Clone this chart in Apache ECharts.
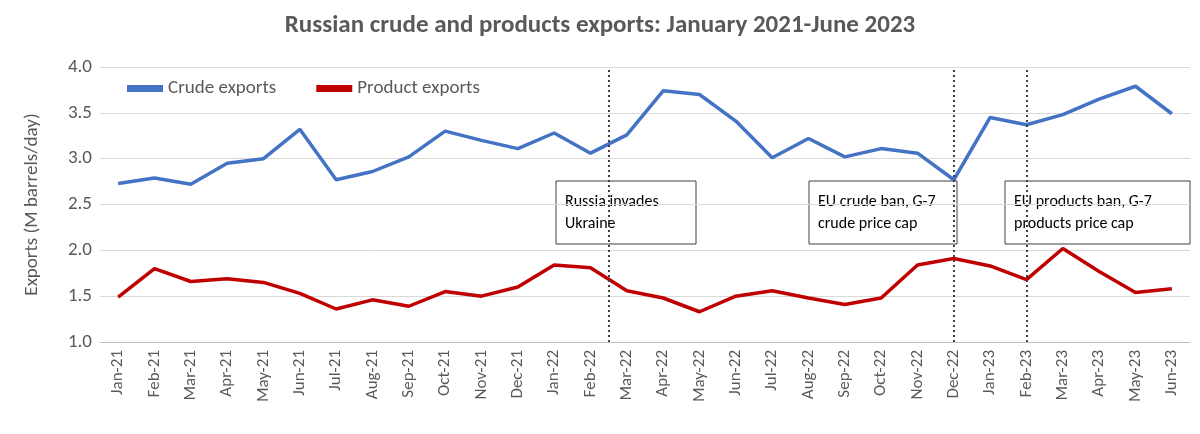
<!DOCTYPE html>
<html>
<head>
<meta charset="utf-8">
<script src="https://cdn.jsdelivr.net/npm/echarts@6/dist/echarts.min.js"></script>
</head>
<body style="margin:0">
<div id="chart" style="width:1200px;height:434px;"></div>
<script>
var months = ['Jan-21','Feb-21','Mar-21','Apr-21','May-21','Jun-21','Jul-21','Aug-21','Sep-21','Oct-21','Nov-21','Dec-21',
  'Jan-22','Feb-22','Mar-22','Apr-22','May-22','Jun-22','Jul-22','Aug-22','Sep-22','Oct-22','Nov-22','Dec-22',
  'Jan-23','Feb-23','Mar-23','Apr-23','May-23','Jun-23'];
var crude = [2.73,2.79,2.72,2.95,3.00,3.32,2.77,2.86,3.02,3.30,3.20,3.11,
  3.28,3.06,3.26,3.74,3.70,3.41,3.01,3.22,3.02,3.11,3.06,2.77,
  3.45,3.37,3.48,3.65,3.79,3.49];
var products = [1.49,1.80,1.66,1.69,1.65,1.53,1.36,1.46,1.39,1.55,1.50,1.60,
  1.84,1.81,1.56,1.48,1.33,1.50,1.56,1.48,1.41,1.48,1.84,1.91,
  1.83,1.68,2.02,1.77,1.54,1.58];
// event positions in category index units
var events = [13.5, 23, 25];

var font = 'Calibri, Carlito, "Liberation Sans", sans-serif';
var chart = echarts.init(document.getElementById('chart'));

function box(x, y, w, h, txt) {
  return {
    type: 'group', x: x, y: y, zlevel: 1,
    children: [
      { type: 'rect', shape: { x: 0, y: 0, width: w, height: h },
        style: { fill: '#fff', stroke: '#404040', lineWidth: 1 } },
      { type: 'text', x: 9, y: 10,
        style: { text: txt, fill: '#000', font: '16px ' + font, lineHeight: 22,
          verticalAlign: 'top', align: 'left' } }
    ]
  };
}

chart.setOption({
  animation: false,
  title: {
    text: 'Russian crude and products exports: January 2021-June 2023',
    left: 'center', top: 8,
    textStyle: { fontFamily: font, fontSize: 25, fontWeight: 'bold', color: '#595959' }
  },
  legend: {
    left: 122, top: 74, itemWidth: 36, itemGap: 40, icon: 'path://M0,0H10V2H0Z',
    textStyle: { fontFamily: font, fontSize: 19, color: '#595959' },
    data: ['Crude exports', 'Product exports']
  },
  grid: { left: 100, right: 10, top: 67, bottom: 92 },
  xAxis: [{
    type: 'category', data: months, boundaryGap: true,
    axisLine: { lineStyle: { color: '#bfbfbf' } },
    axisTick: { show: false },
    axisLabel: { rotate: 90, fontFamily: font, fontSize: 17, color: '#595959', interval: 0 }
  }, {
    type: 'value', min: -0.5, max: 29.5, show: false
  }],
  yAxis: {
    type: 'value', min: 1, max: 4, interval: 0.5,
    name: 'Exports (M barrels/day)', nameLocation: 'middle', nameGap: 58,
    nameTextStyle: { fontFamily: font, fontSize: 19, color: '#595959' },
    axisLine: { show: false }, axisTick: { show: false },
    axisLabel: { fontFamily: font, fontSize: 19, color: '#595959',
      formatter: function (v) { return v.toFixed(1); } },
    splitLine: { lineStyle: { color: '#d9d9d9' } }
  },
  series: [{
    name: 'Crude exports', type: 'line', data: crude, symbol: 'none',
    lineStyle: { color: '#4472c4', width: 3.5 }, itemStyle: { color: '#4472c4' }
  }, {
    name: 'Product exports', type: 'line', data: products, symbol: 'none',
    lineStyle: { color: '#c00000', width: 3.5 }, itemStyle: { color: '#c00000' }
  }, {
    type: 'line', xAxisIndex: 1, data: [], silent: true,
    markLine: {
      symbol: 'none', label: { show: false },
      lineStyle: { color: '#404040', type: [2, 3], width: 2 },
      data: events.map(function (e) { return { xAxis: e }; })
    }
  }],
  graphic: [
    box(556, 181, 140, 63, 'Russia invades\nUkraine'),
    box(809, 181, 148, 63, 'EU crude ban, G-7\ncrude price cap'),
    box(1005, 181, 185, 63, 'EU products ban, G-7\nproducts price cap')
  ]
});
</script>
</body>
</html>
